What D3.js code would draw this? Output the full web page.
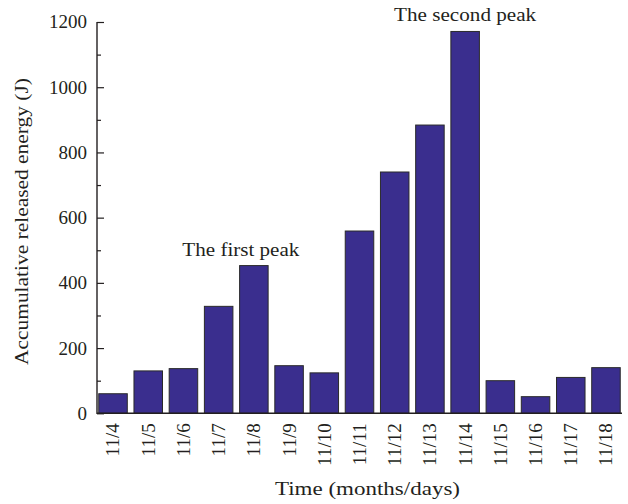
<!DOCTYPE html>
<html>
<head>
<meta charset="utf-8">
<script src="https://cdn.jsdelivr.net/npm/d3@7/dist/d3.min.js"></script>
<style>
  html, body { margin: 0; padding: 0; background: #fff; }
  svg text { font-family: "Liberation Serif", "DejaVu Serif", serif; fill: #231f20; }
</style>
</head>
<body>
<svg id="chart" width="628" height="504"></svg>
<script>
// Daily accumulative released energy, 11/4 – 11/18
const days = ["11/4", "11/5", "11/6", "11/7", "11/8", "11/9", "11/10", "11/11",
              "11/12", "11/13", "11/14", "11/15", "11/16", "11/17", "11/18"];
const energy = [60, 130, 137, 328, 453, 146, 124, 559, 740, 884, 1171, 100, 51, 110, 140];
const yTicks = [0, 200, 400, 600, 800, 1000, 1200];
const yMinorTicks = [100, 300, 500, 700, 900, 1100];
const peaks = [
  { day: "11/8", label: "The first peak", dx: -13, len: 117 },
  { day: "11/14", label: "The second peak", dx: 0, len: 142 }
];

const svg = d3.select("#chart");
const plotLeft = 97, plotRight = 622, plotTop = 22, plotBottom = 413.3;

const x = d3.scaleBand().domain(days).range([plotLeft, plotRight])
  .paddingInner(0.19).paddingOuter(0.05);
const y = d3.scaleLinear().domain([0, 1200]).range([plotBottom, plotTop]);

// bars
svg.append("g").selectAll("rect").data(days).join("rect")
  .attr("x", d => x(d))
  .attr("width", x.bandwidth())
  .attr("y", (d, i) => y(energy[i]))
  .attr("height", (d, i) => y(0) - y(energy[i]))
  .attr("fill", "#3a2e8e")
  .attr("stroke", "#2a2a2a")
  .attr("stroke-width", 1);

// y axis: inward ticks, minor ticks between labels
svg.append("g").attr("transform", `translate(${plotLeft},0)`)
  .call(d3.axisRight(y).tickValues(yTicks).tickSize(7).tickFormat(""))
  .call(g => g.select(".domain").remove())
  .selectAll("line").attr("stroke", "#231f20").attr("stroke-width", 1.2);
svg.append("g").attr("transform", `translate(${plotLeft},0)`)
  .call(d3.axisRight(y).tickValues(yMinorTicks).tickSize(4).tickFormat(""))
  .call(g => g.select(".domain").remove())
  .selectAll("line").attr("stroke", "#231f20").attr("stroke-width", 1.2);
svg.append("line").attr("x1", plotLeft).attr("x2", plotLeft)
  .attr("y1", plotTop).attr("y2", plotBottom + 0.6)
  .attr("stroke", "#231f20").attr("stroke-width", 1.4);
svg.append("g").selectAll("text").data(yTicks).join("text")
  .attr("x", plotLeft - 10).attr("y", d => y(d)).attr("dy", "0.34em")
  .attr("text-anchor", "end").attr("font-size", 19)
  .text(d => d);

// x axis
svg.append("line").attr("x1", plotLeft).attr("x2", plotRight)
  .attr("y1", plotBottom).attr("y2", plotBottom)
  .attr("stroke", "#231f20").attr("stroke-width", 1.4);
svg.append("g").selectAll("text").data(days).join("text")
  .attr("transform", d => `translate(${x(d) + x.bandwidth() / 2},${plotBottom + 10}) rotate(-90)`)
  .attr("text-anchor", "end").attr("dy", "0.34em").attr("font-size", 19)
  .text(d => d);

// axis titles
svg.append("text")
  .attr("transform", "translate(28,221.5) rotate(-90)")
  .attr("text-anchor", "middle").attr("font-size", 18.5)
  .attr("textLength", 287).attr("lengthAdjust", "spacingAndGlyphs")
  .text("Accumulative released energy (J)");
svg.append("text")
  .attr("x", 367.5).attr("y", 495)
  .attr("text-anchor", "middle").attr("font-size", 18.5)
  .attr("textLength", 185).attr("lengthAdjust", "spacingAndGlyphs")
  .text("Time (months/days)");

// peak annotations
svg.append("g").selectAll("text").data(peaks).join("text")
  .attr("x", d => x(d.day) + x.bandwidth() / 2 + d.dx)
  .attr("y", d => y(energy[days.indexOf(d.day)]) - 10)
  .attr("text-anchor", "middle").attr("font-size", 18.5)
  .attr("textLength", d => d.len).attr("lengthAdjust", "spacingAndGlyphs")
  .text(d => d.label);
</script>
</body>
</html>
